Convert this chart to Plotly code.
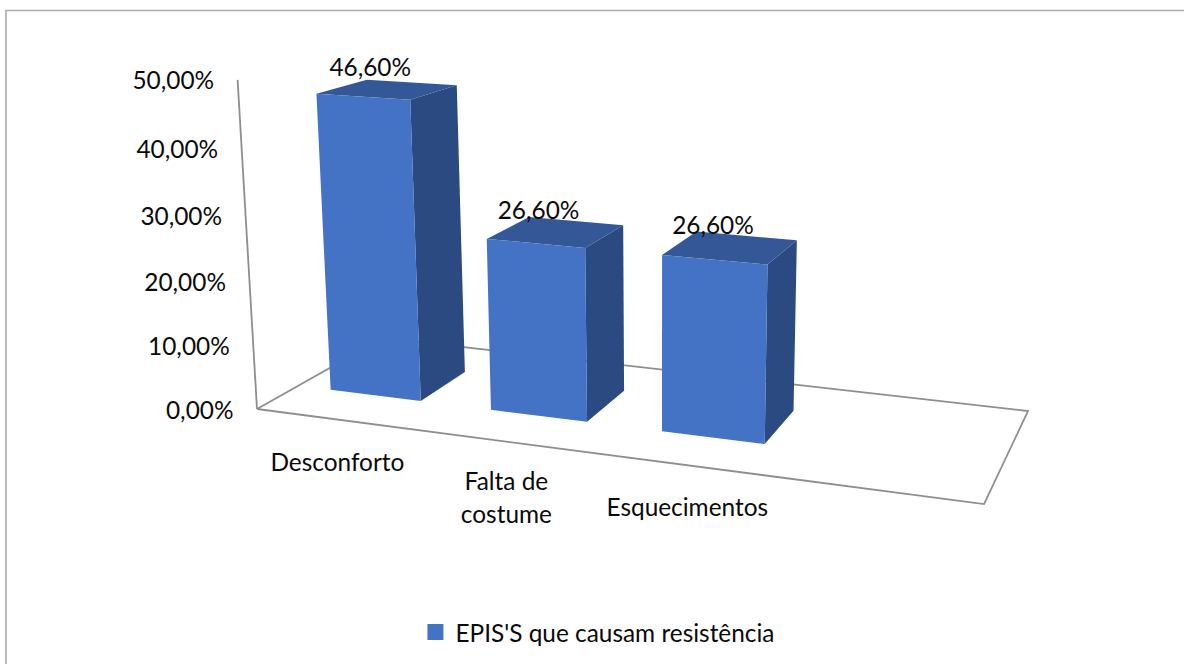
import plotly.graph_objects as go

categories = ["Desconforto", "Falta de\ncostume", "Esquecimentos"]
values = [46.6, 26.6, 26.6]
value_labels = ["46,60%", "26,60%", "26,60%"]
tick_values = [0, 10, 20, 30, 40, 50]
tick_labels = ["0,00%", "10,00%", "20,00%", "30,00%", "40,00%", "50,00%"]
series_name = "EPIS'S que causam resistência"

N_SLOTS = 4
BAR_U = (0.21, 0.78)
BAR_V = (0.30, 0.69)
FRONT, SIDE, TOP = "#4472C4", "#2B4A82", "#335797"
AXIS_GREY, FRAME_GREY = "#8E8E8E", "#ABABAB"
FONT = "Lato"
FS = 24.4


def project(u, v, z):
    """Perspective view of the 3-D plot box: u category slots, v depth, z value."""
    s = u / N_SLOTS
    w = -0.1298 * s + 0.1360 * v + 1
    fx = 599.3 * s + 178.1 * v + 257
    fy = 29.6 * s - 25.0 * v + 409
    rho = -0.000918
    d = w + rho * z
    return (fx + 660 * rho * z) / d, (fy + 7250 * rho * z) / d


def poly(points, color):
    xs, ys = zip(*points)
    return go.Scatter(
        x=list(xs) + [xs[0]], y=list(ys) + [ys[0]], mode="lines", fill="toself",
        fillcolor=color, line=dict(color=color, width=0),
        hoverinfo="skip", showlegend=False,
    )


def polyline(points, color, width):
    xs, ys = zip(*points)
    return go.Scatter(x=list(xs), y=list(ys), mode="lines",
                      line=dict(color=color, width=width),
                      hoverinfo="skip", showlegend=False)


def text_at(x, y, txt, pos="middle center"):
    return go.Scatter(x=[x], y=[y], mode="text", text=[txt], textposition=pos,
                      textfont=dict(family=FONT, size=FS, color="#0A0A0A"),
                      hoverinfo="skip", showlegend=False, cliponaxis=False)


fig = go.Figure()

# chart frame
fig.add_trace(polyline([(6, 664), (6, 10.5), (1184, 10.5)], FRAME_GREY, 1.6))

# floor and value axis
floor = [project(0, 0, 0), project(N_SLOTS, 0, 0), project(N_SLOTS, 1, 0),
         project(0, 1, 0), project(0, 0, 0)]
fig.add_trace(polyline(floor, AXIS_GREY, 1.8))
fig.add_trace(polyline([project(0, 0, 0), project(0, 0, tick_values[-1])], AXIS_GREY, 1.8))

# bars
for i, val in enumerate(values):
    u0, u1 = i + BAR_U[0], i + BAR_U[1]
    v0, v1 = BAR_V
    fig.add_trace(poly([project(u1, v0, 0), project(u1, v1, 0),
                        project(u1, v1, val), project(u1, v0, val)], SIDE))
    fig.add_trace(poly([project(u0, v0, val), project(u1, v0, val),
                        project(u1, v1, val), project(u0, v1, val)], TOP))
    fig.add_trace(poly([project(u0, v0, 0), project(u1, v0, 0),
                        project(u1, v0, val), project(u0, v0, val)], FRONT))

# value labels
for i, val in enumerate(values):
    x, y = project(i + 0.5, 0.5, val)
    fig.add_trace(text_at(x - 19, y - 19, value_labels[i]))

# value axis labels
for t, lab in zip(tick_values, tick_labels):
    x, y = project(0, 0, t)
    fig.add_trace(text_at(x - 23.5, y + 3.5, lab, "middle left"))

# category labels
for i, cat in enumerate(categories):
    x, y = project(i + 0.5, 0, 0)
    lines = cat.split("\n")
    for k, line in enumerate(lines):
        shift = 42 if len(lines) > 1 else 45
        fig.add_trace(text_at(x, y + shift + 33 * k, line))

# legend entry
fig.add_trace(go.Scatter(x=[None], y=[None], mode="markers", name=series_name,
                         marker=dict(symbol="square", size=16, color=FRONT)))

fig.update_layout(
    width=1184, height=664, margin=dict(l=0, r=0, t=0, b=0),
    paper_bgcolor="white", plot_bgcolor="white",
    xaxis=dict(range=[0, 1184], visible=False, fixedrange=True),
    yaxis=dict(range=[664, 0], visible=False, fixedrange=True),
    showlegend=True,
    legend=dict(x=0.505, y=0.048, xanchor="center", yanchor="middle",
                font=dict(family=FONT, size=FS, color="#0A0A0A"),
                bgcolor="rgba(0,0,0,0)"),
    font=dict(family=FONT),
)

fig.write_html("out.html", config={"displayModeBar": False},
               post_script="document.body.style.margin='0';document.documentElement.style.overflow='hidden';")
